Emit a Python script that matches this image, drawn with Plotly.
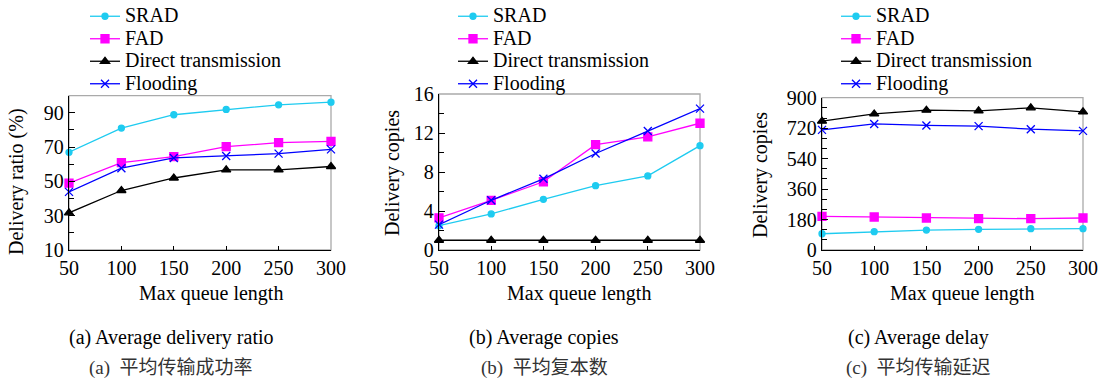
import plotly.graph_objects as go

W, H = 1098, 382

queue = [50, 100, 150, 200, 250, 300]
series_names = ["SRAD", "FAD", "Direct transmission", "Flooding"]

# (a) Average delivery ratio (%)
ratio_srad = [67.0, 81.1, 88.9, 92.0, 94.7, 96.2]
ratio_fad = [49.0, 61.0, 64.5, 70.3, 72.6, 73.4]
ratio_direct = [31.7, 44.7, 52.0, 56.7, 56.7, 58.7]
ratio_flood = [43.9, 57.7, 63.7, 64.8, 66.2, 68.7]

# (b) Average copies
copies_srad = [2.5, 3.7, 5.2, 6.6, 7.6, 10.7]
copies_fad = [3.3, 5.1, 7.0, 10.8, 11.6, 13.0]
copies_direct = [1.0, 1.0, 1.0, 1.0, 1.0, 1.0]
copies_flood = [2.6, 5.1, 7.3, 9.9, 12.2, 14.5]

# (c) Average delay
delay_srad = [96, 108, 118, 122, 126, 126]
delay_fad = [199, 195, 189, 185, 185, 189]
delay_direct = [761, 804, 826, 822, 840, 816]
delay_flood = [710, 745, 736, 732, 714, 704]

y_titles = ["Delivery ratio (%)", "Delivery copies", "Delivery copies"]
x_title = "Max queue length"
captions_en = ["(a) Average delivery ratio", "(b) Average copies", "(c) Average delay"]
captions_zh = ["(a)  平均传输成功率", "(b)  平均复本数", "(c)  平均传输延迟"]

colors = ["#1ecbf0", "#ff00ff", "#000000", "#0000ff"]
symbols = ["circle", "square", "triangle-up", "x-thin"]
msizes = [6, 8, 8, 8]

FONT = "'Liberation Serif', 'Times New Roman', Times, serif"
CJK = "'Liberation Serif', 'Noto Sans CJK SC', sans-serif"

def px(x):
    return x / W

def py(y):
    return 1 - y / H

panels = [
    dict(data=[ratio_srad, ratio_fad, ratio_direct, ratio_flood],
         xd=(69, 331), yd=(95.7, 250), yr=[10, 100], tick0=10, dtick=20, minor=10,
         leg_x=85, ytitle_x=16, ytitle_y=182, xtitle_x=211, cap_x=171),
    dict(data=[copies_srad, copies_fad, copies_direct, copies_flood],
         xd=(439, 700), yd=(94, 250), yr=[0, 16], tick0=0, dtick=4, minor=2,
         leg_x=453, ytitle_x=392, ytitle_y=173, xtitle_x=579, cap_x=544),
    dict(data=[delay_srad, delay_fad, delay_direct, delay_flood],
         xd=(822, 1083), yd=(97.7, 250), yr=[0, 900], tick0=0, dtick=180, minor=60,
         leg_x=836, ytitle_x=761, ytitle_y=175, xtitle_x=962, cap_x=918),
]

fig = go.Figure()
layout = dict(
    width=W, height=H, margin=dict(l=0, r=0, t=0, b=0, autoexpand=False),
    paper_bgcolor="white", plot_bgcolor="white",
    font=dict(family=FONT, size=20, color="black"),
    showlegend=True,
)
annotations = []
shapes = []

for i, p in enumerate(panels):
    n = "" if i == 0 else str(i + 1)
    xa, ya = "x" + n, "y" + n
    legname = "legend" + n
    for k in range(4):
        fig.add_trace(go.Scatter(
            x=queue, y=p["data"][k], xaxis=xa, yaxis=ya,
            mode="lines+markers",
            name='<span style="font-size:20px">' + series_names[k] + "</span>",
            line=dict(color=colors[k], width=1.3),
            marker=dict(symbol=symbols[k], size=msizes[k], color=colors[k],
                        line=dict(color=colors[k], width=1.3)),
            legend=legname, cliponaxis=False,
        ))
    layout["xaxis" + n] = dict(
        domain=[px(p["xd"][0]), px(p["xd"][1])], anchor=ya,
        range=[50, 300], tickvals=queue, ticktext=[str(v) for v in queue],
        showline=True, linecolor="black", linewidth=1.3, mirror=False,
        ticks="inside", ticklen=4, tickcolor="black",
        showgrid=False, zeroline=False, automargin=False,
        tickfont=dict(family=FONT, size=20, color="black"),
    )
    layout["yaxis" + n] = dict(
        domain=[py(p["yd"][1]), py(p["yd"][0])], anchor=xa,
        range=p["yr"], tick0=p["tick0"], dtick=p["dtick"], tickmode="linear",
        showline=True, linecolor="black", linewidth=1.3, mirror=False,
        ticks="inside", ticklen=6, tickcolor="black",
        minor=dict(dtick=p["minor"], tick0=p["tick0"], ticks="inside", ticklen=5, tickcolor="black"),
        showgrid=False, zeroline=False, automargin=False,
        tickfont=dict(family=FONT, size=20, color="black"),
    )
    layout[legname] = dict(
        x=px(p["leg_x"]), y=1, xanchor="left", yanchor="top",
        bgcolor="rgba(0,0,0,0)", font=dict(family=FONT, size=15, color="black"),
        itemwidth=30, tracegroupgap=0,
    )
    shapes.append(dict(type="rect", xref=xa + " domain", yref=ya + " domain",
                       x0=0, x1=1, y0=0, y1=1, line=dict(color="#aaaaaa", width=1.3),
                       layer="below"))
    annotations.append(dict(text=y_titles[i], xref="paper", yref="paper",
                            x=px(p["ytitle_x"]), y=py(p["ytitle_y"]), textangle=-90,
                            showarrow=False, xanchor="center", yanchor="middle",
                            font=dict(family=FONT, size=20, color="black")))
    annotations.append(dict(text=x_title, xref="paper", yref="paper",
                            x=px(p["xtitle_x"]), y=py(293), showarrow=False,
                            xanchor="center", yanchor="middle",
                            font=dict(family=FONT, size=20, color="black")))
    annotations.append(dict(text=captions_en[i], xref="paper", yref="paper",
                            x=px(p["cap_x"]), y=py(337), showarrow=False,
                            xanchor="center", yanchor="middle",
                            font=dict(family=FONT, size=20, color="black")))
    annotations.append(dict(text=captions_zh[i], xref="paper", yref="paper",
                            x=px(p["cap_x"]), y=py(368), showarrow=False,
                            xanchor="center", yanchor="middle",
                            font=dict(family=CJK, size=19, color="#333333")))

layout["annotations"] = annotations
layout["shapes"] = shapes
fig.update_layout(**layout)
fig.write_html("out.html", config={"displayModeBar": False},
               post_script="document.body.style.margin='0px';document.body.style.overflow='hidden';")
